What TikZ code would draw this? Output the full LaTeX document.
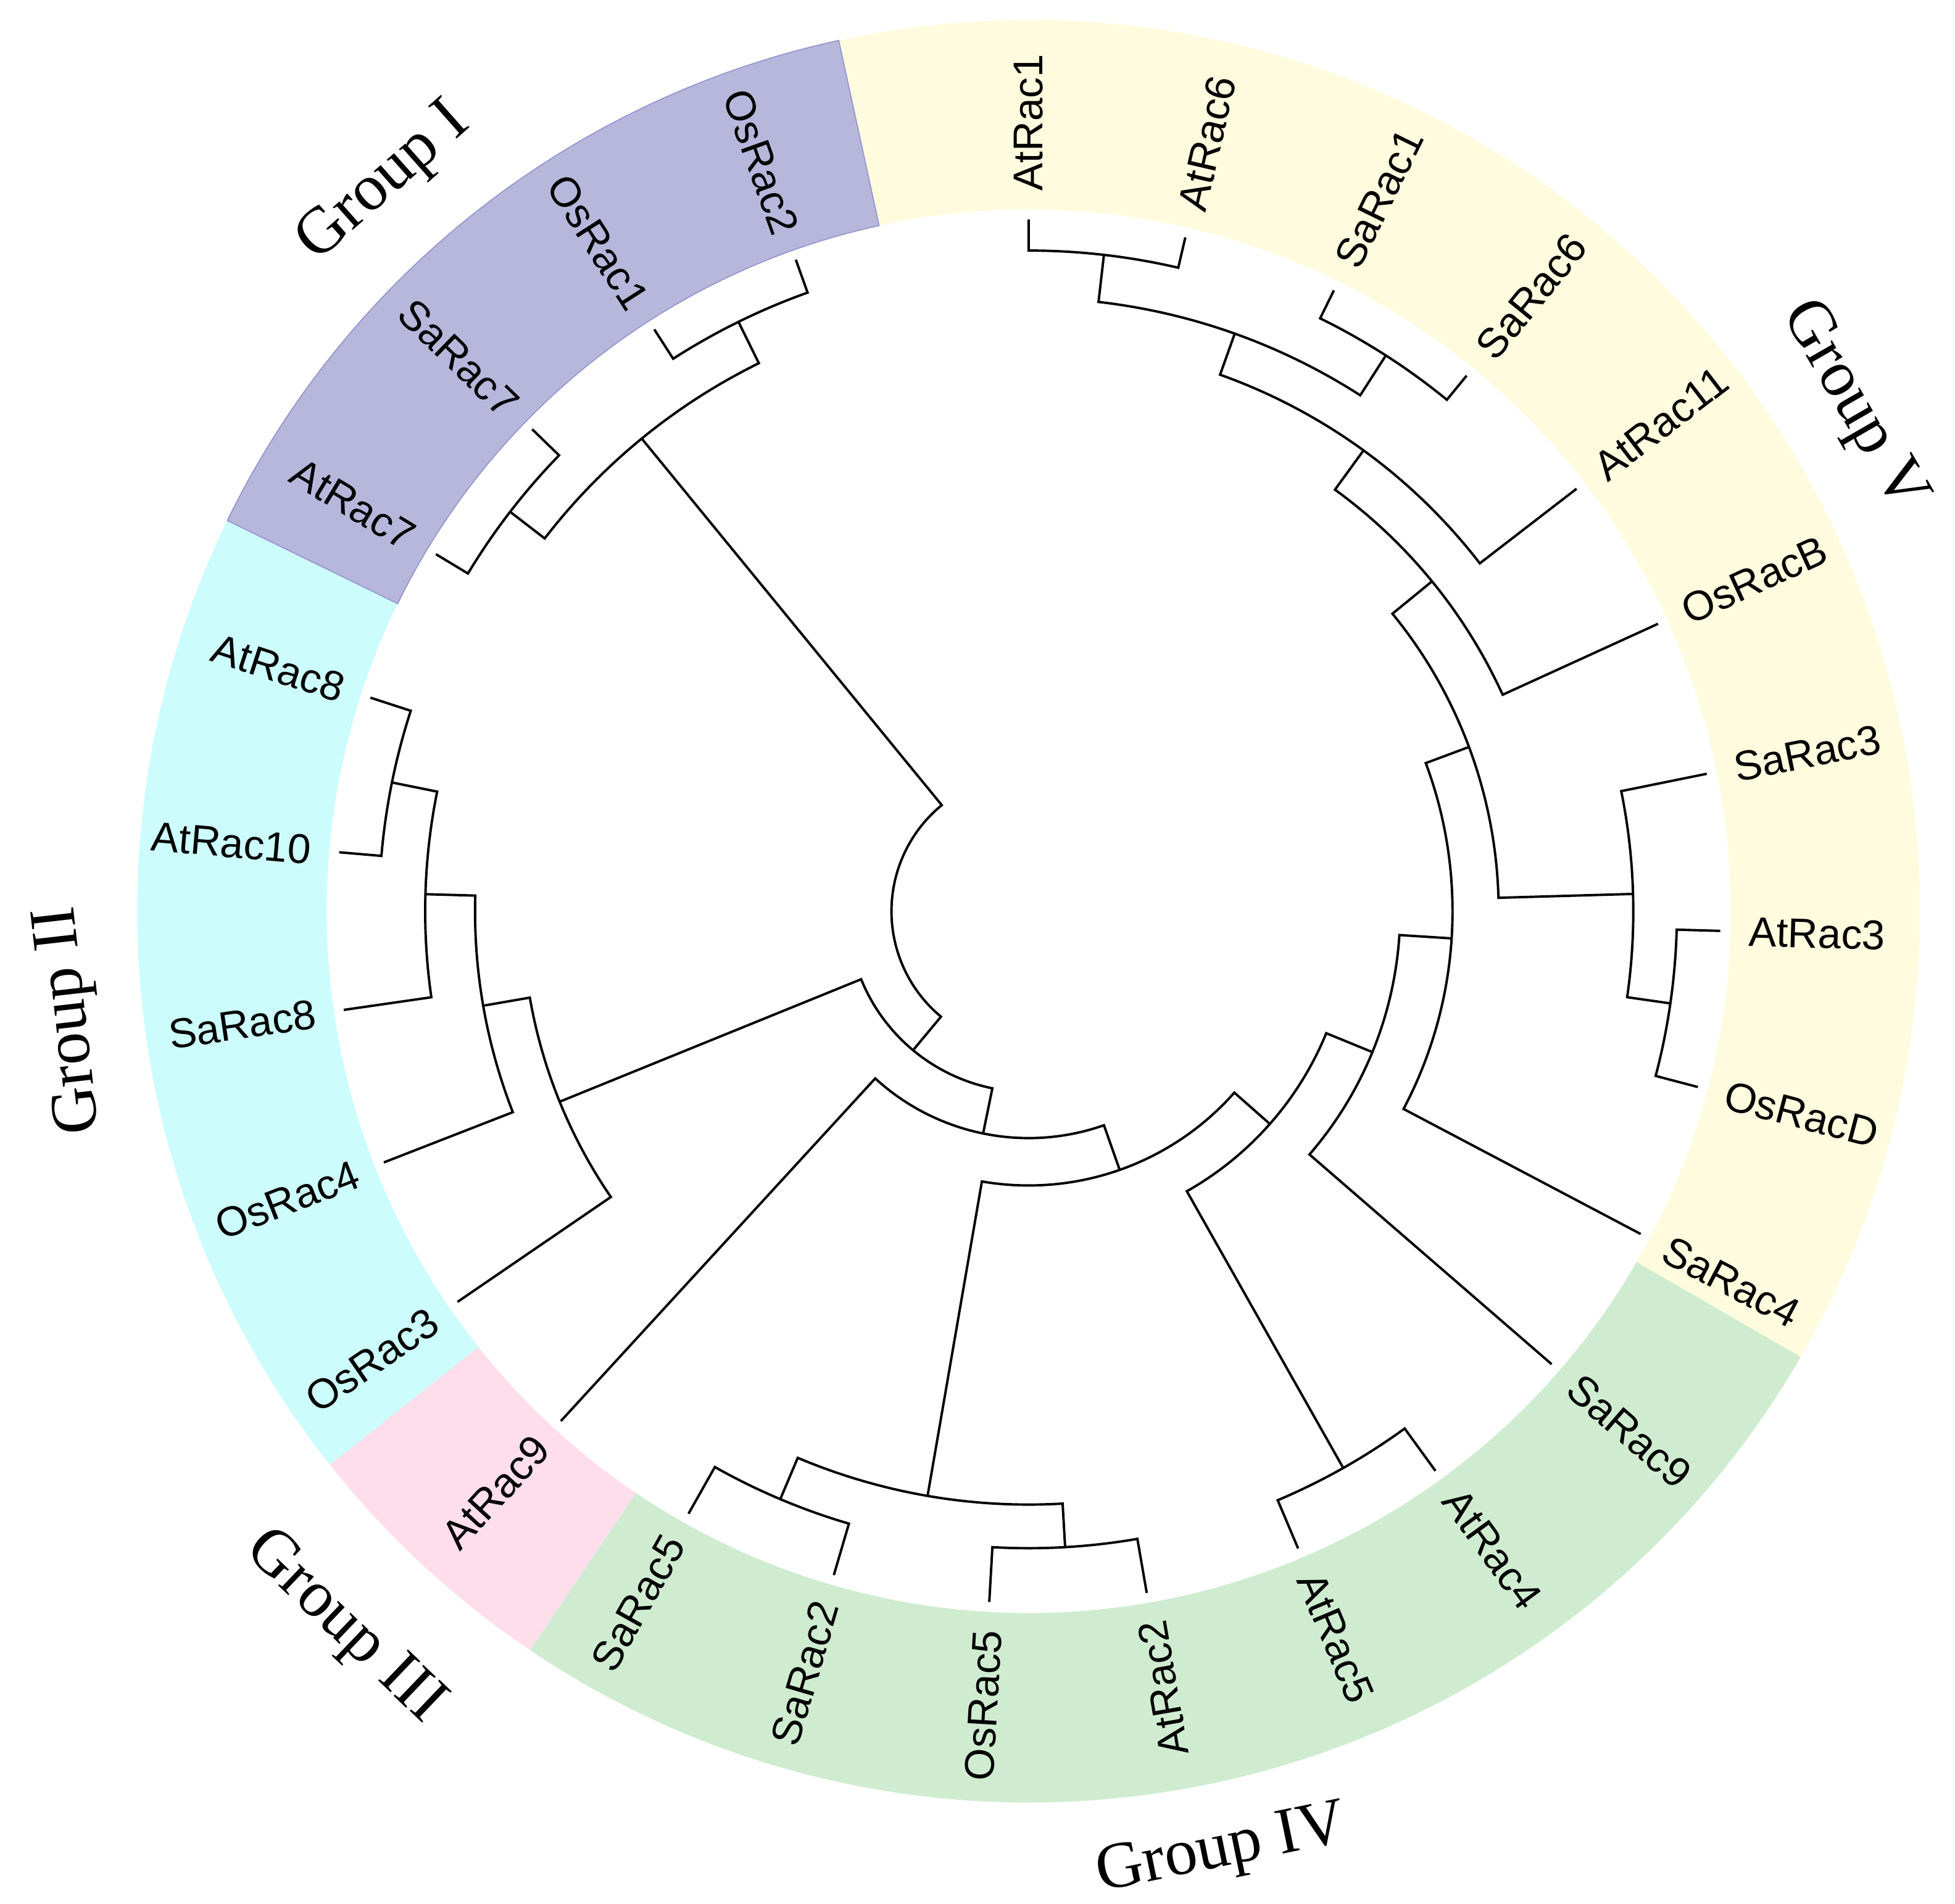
\documentclass[tikz,border=0pt]{standalone}
\usepackage{fontspec}
\setmainfont{Liberation Serif}
\setsansfont{Liberation Sans}

\definecolor{grpI}{RGB}{182,183,219}
\definecolor{grpIedge}{RGB}{150,150,208}
\definecolor{grpII}{RGB}{204,252,252}
\definecolor{grpIII}{RGB}{253,222,234}
\definecolor{grpIV}{RGB}{207,236,208}
\definecolor{grpV}{RGB}{255,251,222}

\begin{document}
\begin{tikzpicture}[branch/.style={line width=1.1pt, line join=miter},
    leaf/.style={font=\sffamily\fontsize{19}{19}\selectfont, inner sep=0pt},
    grouplabel/.style={font=\fontsize{30}{30}\selectfont, inner sep=0pt}]
  \useasboundingbox (-16.5,-15.92) rectangle (14.86,14.62);

  \foreach \c/\a/\b in {grpV/-30/102.3, grpI/102.3/154, grpII/154/218.4,
                        grpIII/218.4/236, grpIV/236/330}
    \fill[\c] (\a:11.26) arc[start angle=\a, end angle=\b, radius=11.26]
      -- (\b:14.3) arc[start angle=\b, end angle=\a, radius=14.3] -- cycle;
  \draw[grpIedge, line width=0.5pt] (102.3:11.26) arc[start angle=102.3, end angle=154, radius=11.26]
      -- (154:14.3) arc[start angle=154, end angle=102.3, radius=14.3] -- cycle;

  \foreach \name [count=\i from 0] in {AtRac1,AtRac6,SaRac1,SaRac6,AtRac11,OsRacB,
      SaRac3,AtRac3,OsRacD,SaRac4,SaRac9,AtRac4,AtRac5,AtRac2,OsRac5,SaRac2,SaRac5,
      AtRac9,OsRac3,OsRac4,SaRac8,AtRac10,AtRac8,AtRac7,SaRac7,OsRac1,OsRac2} {
    \pgfmathsetmacro\ang{90-13.09*\i}
    \coordinate (tip-\name) at (\ang:11.1);
    \ifdim\ang pt>-73pt
      \node[leaf, rotate=\ang, anchor=west] (\name) at (\ang:11.55) {\name};
    \else
      \node[leaf, rotate=\ang+180, anchor=east] (\name) at (\ang:11.55) {\name};
    \fi
  }

  \foreach \nd/\r/\a/\ea/\b/\eb in {
      n1/10.60/90/11.10/76.91/11.10,
      n3/10.60/63.82/11.10/50.73/11.10,
      n2/9.84/83.455/10.60/57.275/10.60,
      n4/9.14/70.365/9.84/37.64/11.10,
      n5/8.36/54.0/9.14/24.55/11.10,
      n8/10.40/-1.63/11.10/-14.72/11.10,
      n7/9.70/11.46/11.10/-8.175/10.40,
      n6/7.54/39.28/8.36/1.64/9.70,
      n9/6.80/20.46/7.54/-27.81/11.10,
      n10/5.96/-3.675/6.80/-40.90/11.10,
      n12/10.26/-53.99/11.10/-67.08/11.10,
      n11/5.16/-22.29/5.96/-60.535/10.26,
      n17/10.22/-80.17/11.10/-93.26/11.10,
      n15/10.24/-106.35/11.10/-119.44/11.10,
      n16/9.52/-86.715/10.22/-112.895/10.24,
      n13/4.40/-41.41/5.16/-99.805/9.52,
      n18/3.64/-70.61/4.40/-132.53/11.10,
      n22/10.42/-184.89/11.10/-197.98/11.10,
      n21/9.68/-171.80/11.10/-191.435/10.42,
      n20/8.88/-158.71/11.10/-181.62/9.68,
      n14/8.12/-145.62/11.10/-170.17/8.88,
      n19/2.90/-101.57/3.64/-157.89/8.12,
      n23/10.50/-211.07/11.10/-224.16/11.10,
      n24/10.54/-237.25/11.10/-250.34/11.10,
      n25/9.80/-217.615/10.50/-243.795/10.54,
      root/2.20/-129.73/2.90/-230.705/9.80} {
    \coordinate (\nd) at ({(\a+\b)/2}:\r);
    \draw[branch] (\a:\ea) -- (\a:\r) arc[start angle=\a, end angle=\b, radius=\r] -- (\b:\eb);
  }

  \node[grouplabel, rotate=41.5] (gI) at (131.5:15.6) {Group I};
  \node[grouplabel, rotate=96.5] (gII) at (186.5:15.46) {Group II};
  \node[grouplabel, rotate=-43.7] (gIII) at (226.3:15.9) {Group III};
  \node[grouplabel, rotate=11.6] (gIV) at (-78.4:15.4) {Group IV};
  \node[grouplabel, rotate=-60] (gV) at (31.5:15.5) {Group V};
\end{tikzpicture}
\end{document}
